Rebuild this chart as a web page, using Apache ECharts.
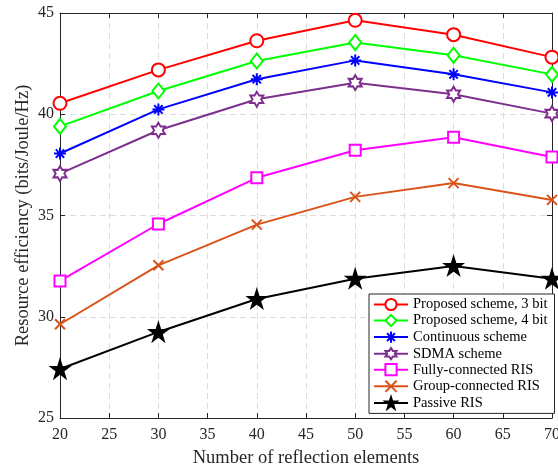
<!DOCTYPE html>
<html><head><meta charset="utf-8">
<script src="https://cdn.jsdelivr.net/npm/echarts@6/dist/echarts.min.js"></script>
<style>html,body{margin:0;padding:0;background:#fff}#c{width:558px;height:465px}</style>
</head><body><div id="c"></div>
<script>
var elements = [20, 30, 40, 50, 60, 70];
var seriesNames = ["Proposed scheme, 3 bit","Proposed scheme, 4 bit","Continuous scheme","SDMA scheme","Fully-connected RIS","Group-connected RIS","Passive RIS"];
var proposed3 = [40.54, 42.19, 43.63, 44.64, 43.93, 42.82];
var proposed4 = [39.40, 41.15, 42.63, 43.54, 42.91, 41.97];
var continuous = [38.06, 40.24, 41.73, 42.66, 41.97, 41.08];
var sdma = [37.07, 39.21, 40.74, 41.56, 40.99, 40.03];
var fully = [31.77, 34.58, 36.86, 38.22, 38.86, 37.89];
var group = [29.63, 32.54, 34.55, 35.92, 36.60, 35.77];
var passive = [27.42, 29.25, 30.88, 31.88, 32.51, 31.88];
var xTicks = {min: 20, max: 70, step: 5};
var yTicks = {min: 25, max: 45, step: 5};

var values = [proposed3, proposed4, continuous, sdma, fully, group, passive];
var colors = ['#ff0000','#00ff00','#0000ff','#7e2f8e','#ff00ff','#d95319','#000000'];
var symbols = [
  'path://M1,0A1,1,0,1,1,-1,0A1,1,0,1,1,1,0Z',
  'path://M0,-1L0.8,0L0,1L-0.8,0Z',
  'path://M0,-1L0,1M-1,0L1,0M-0.7,-0.7L0.7,0.7M-0.7,0.7L0.7,-0.7',
  'path://M0,-1L0.289,-0.5L0.866,-0.5L0.577,0L0.866,0.5L0.289,0.5L0,1L-0.289,0.5L-0.866,0.5L-0.577,0L-0.866,-0.5L-0.289,-0.5Z',
  'path://M-1,-1L1,-1L1,1L-1,1Z',
  'path://M-1,-1L1,1M-1,1L1,-1',
  'path://M0,-1L0.2245,-0.309L0.951,-0.309L0.3633,0.118L0.5878,0.809L0,0.382L-0.5878,0.809L-0.3633,0.118L-0.951,-0.309L-0.2245,-0.309Z'
];
var sizes = [13, [12,15], 12, [13,15], 11, 10, 17];
var fills = ['#fff','#fff','none','#fff','#fff','none','#000'];

var font = 'Liberation Serif, Times New Roman, serif';
var series = values.map(function(v, i){
  return {
    name: seriesNames[i], type: 'line',
    data: elements.map(function(x, j){ return [x, v[j]]; }),
    symbol: symbols[i], symbolSize: sizes[i],
    lineStyle: {color: colors[i], width: 2},
    itemStyle: {color: fills[i], borderColor: colors[i], borderWidth: 2},
    z: 10 - i
  };
});

var chart = echarts.init(document.getElementById('c'));
var axisCommon = {
  axisLine: {show: true, lineStyle: {color: '#262626', width: 1}},
  axisTick: {show: true, inside: true, length: 5, lineStyle: {color: '#262626'}}
};
chart.setOption({
  animation: false,
  grid: {left: 60, right: 6, top: 13, bottom: 47, containLabel: false, outerBoundsMode: 'none'},
  xAxis: [
    Object.assign({type: 'value', min: xTicks.min, max: xTicks.max, interval: xTicks.step, position: 'bottom',
      name: 'Number of reflection elements', nameLocation: 'middle', nameGap: 31, nameMoveOverlap: false,
      nameTextStyle: {fontFamily: font, fontSize: 18.5, color: '#262626'},
      axisLabel: {fontFamily: font, fontSize: 16, color: '#262626', margin: 9},
      splitLine: {show: true, lineStyle: {color: '#dcdcdc', type: [6,4], width: 1}}
    }, axisCommon),
    Object.assign({type: 'value', min: xTicks.min, max: xTicks.max, interval: xTicks.step, position: 'top',
      axisLabel: {show: false}, splitLine: {show: false}}, axisCommon)
  ],
  yAxis: [
    Object.assign({type: 'value', min: yTicks.min, max: yTicks.max, interval: yTicks.step, position: 'left',
      name: 'Resource efficiency (bits/Joule/Hz)', nameLocation: 'middle', nameGap: 27, nameMoveOverlap: false,
      nameTextStyle: {fontFamily: font, fontSize: 18.5, color: '#262626'},
      axisLabel: {fontFamily: font, fontSize: 16, color: '#262626', margin: 6},
      splitLine: {show: true, lineStyle: {color: '#dcdcdc', type: [6,4], width: 1}}
    }, axisCommon),
    Object.assign({type: 'value', min: yTicks.min, max: yTicks.max, interval: yTicks.step, position: 'right',
      axisLabel: {show: false}, splitLine: {show: false}}, axisCommon)
  ],
  legend: {
    orient: 'vertical', left: 369, top: 294,
    padding: [3, 7, 3, 4], itemGap: 1, itemWidth: 34, itemHeight: 14,
    backgroundColor: '#fff', borderColor: '#262626', borderWidth: 1,
    textStyle: {fontFamily: font, fontSize: 14.5, color: '#000'},
    data: seriesNames
  },
  series: series
});
</script></body></html>
